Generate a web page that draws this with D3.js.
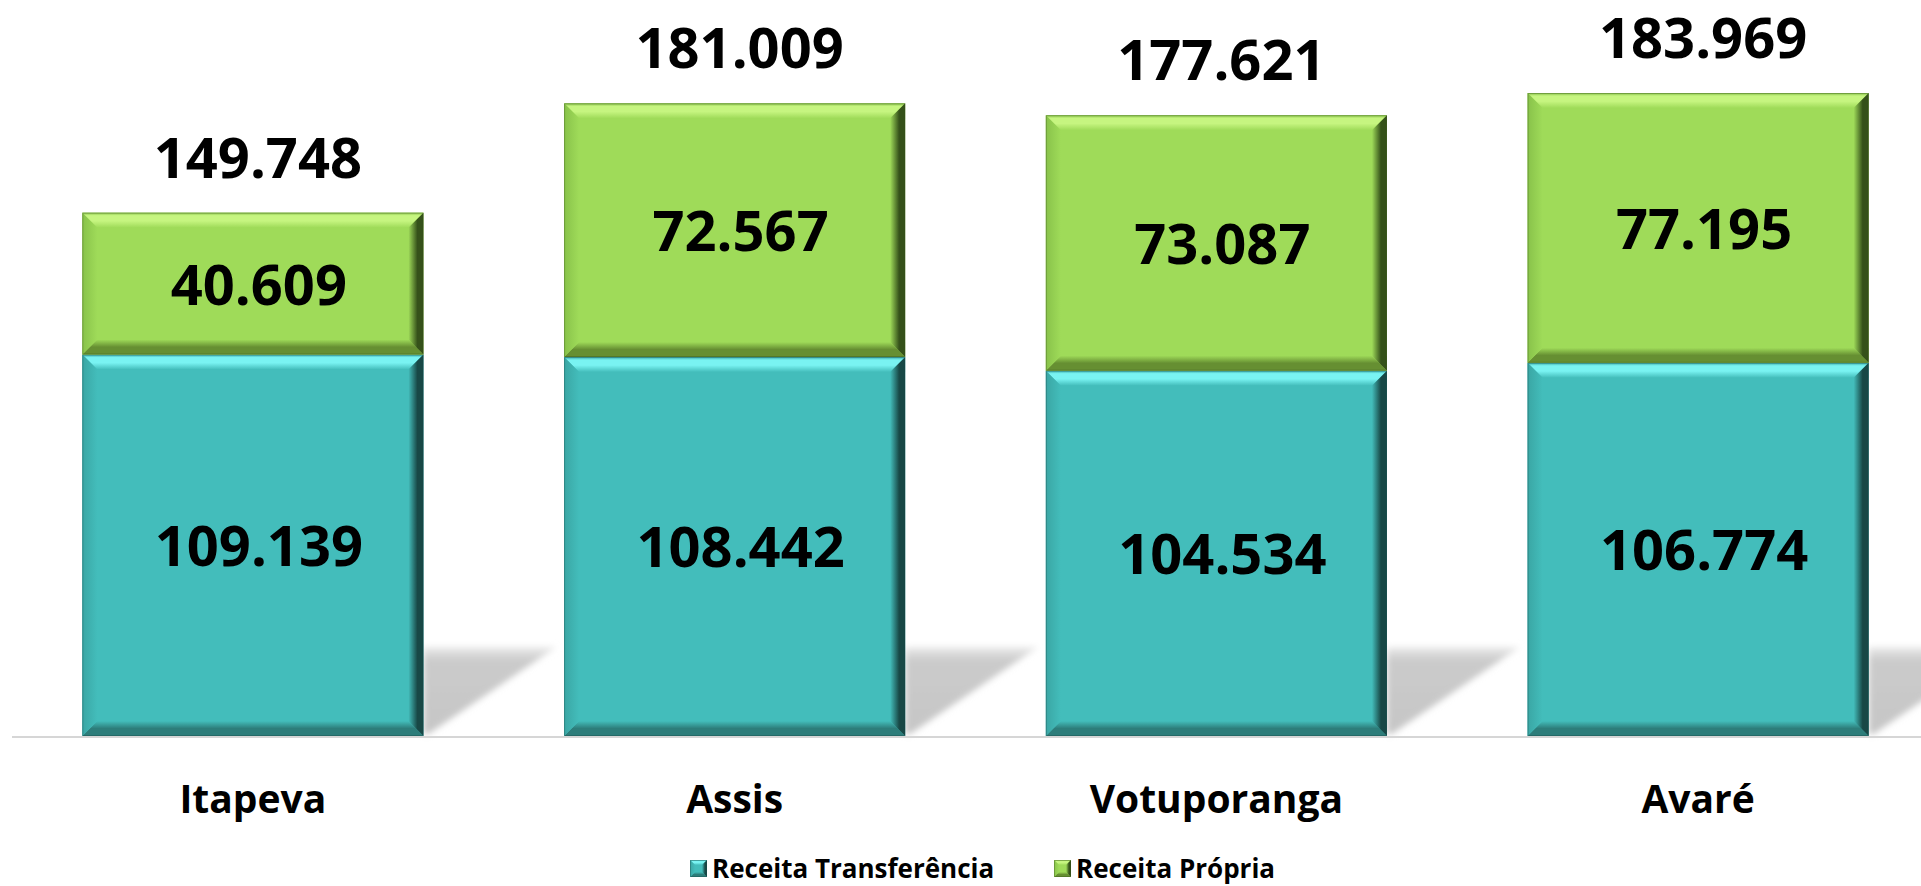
<!DOCTYPE html>
<html>
<head>
<meta charset="utf-8">
<script src="https://cdn.jsdelivr.net/npm/d3@7"></script>
<style>
  body { margin: 0; background: #fff; }
  text { font-family: 'Open Sans', 'Noto Sans', sans-serif; font-weight: bold; fill: #000; }
</style>
</head>
<body>
<svg id="chart" width="1921" height="886"></svg>
<script>
const categories = ['Itapeva', 'Assis', 'Votuporanga', 'Avaré']
const receitaTransferencia = [109139, 108442, 104534, 106774]
const receitaPropria = [40609, 72567, 73087, 77195]
const seriesNames = ['Receita Transferência', 'Receita Própria']
const seriesKeys = ['transf', 'propria']

const width = 1921, height = 886
const baseY = 736
const bevel = 15

const svg = d3.select('#chart')
const defs = svg.append('defs')

const ptBR = d3.formatLocale({ decimal: ',', thousands: '.', grouping: [3], currency: ['R$', ''] })
const fmt = ptBR.format(',d')

const rows = categories.map((c, i) => ({ cat: c, transf: receitaTransferencia[i], propria: receitaPropria[i] }))
const stacked = d3.stack().keys(seriesKeys)(rows)

const x = d3.scaleBand()
  .domain(categories)
  .range([12, 1939])
  .paddingInner(0.292)
  .paddingOuter(0.146)

const y = d3.scaleLinear()
  .domain([0, 200000])
  .range([baseY, 37])

// colours for the bevelled look: main, light (top), dark (right), mid (bottom), left
const palette = {
  transf: { main: '#43bdbb', edge: '#3aa9a7', light: '#79f3f2', dark: '#184846', bottom: '#2d7d7a', left: '#3aa6a4' },
  propria: { main: '#9fdb59', edge: '#88c04a', light: '#c6f580', dark: '#35511a', bottom: '#668f32', left: '#88c24a' }
}

function grad(id, x2, y2, stops) {
  const g = defs.append('linearGradient').attr('id', id)
    .attr('x1', 0).attr('y1', 0).attr('x2', x2).attr('y2', y2)
  stops.forEach(s => g.append('stop').attr('offset', s[0]).attr('stop-color', s[1]))
}

seriesKeys.forEach(k => {
  const p = palette[k]
  grad(k + '-top', 0, 1, [[0, p.edge], [0.2, p.light], [0.55, p.light], [1, p.main]])
  grad(k + '-bottom', 0, 1, [[0, p.main], [0.5, p.bottom], [1, p.bottom]])
  grad(k + '-right', 1, 0, [[0, p.main], [0.6, p.dark], [1, p.dark]])
  grad(k + '-left', 1, 0, [[0, p.left], [1, p.main]])
})

const blur = defs.append('filter').attr('id', 'shadowBlur')
  .attr('x', '-20%').attr('y', '-20%').attr('width', '140%').attr('height', '140%')
blur.append('feGaussianBlur').attr('stdDeviation', 3)
grad('shadowFill', 0, 1, [[0, '#ececec'], [0.15, '#cbcbcb'], [1, '#c6c6c6']])

// cast shadows behind the bars
const shH = 89, shW = x.bandwidth() * 0.39
svg.append('g').selectAll('path')
  .data(categories)
  .enter()
  .append('path')
  .attr('d', c => {
    const xr = x(c) + x.bandwidth()
    return `M${xr},${baseY - shH} L${xr + shW},${baseY - shH} L${xr + 5},${baseY - 2} L${xr},${baseY - 2} Z`
  })
  .attr('fill', 'url(#shadowFill)')
  .attr('filter', 'url(#shadowBlur)')

// axis line
svg.append('line')
  .attr('x1', 12).attr('x2', width)
  .attr('y1', baseY + 1).attr('y2', baseY + 1)
  .attr('stroke', '#d6d6d6').attr('stroke-width', 2)

function bevelBox(g, x0, y0, w, h, key, b) {
  const x1 = x0 + w, y1 = y0 + h
  g.append('rect').attr('x', x0).attr('y', y0).attr('width', w).attr('height', h)
    .attr('fill', palette[key].main)
  g.append('path').attr('d', `M${x0},${y0} L${x1},${y0} L${x1 - b},${y0 + b} L${x0 + b},${y0 + b} Z`)
    .attr('fill', `url(#${key}-top)`)
  g.append('path').attr('d', `M${x0},${y1} L${x0 + b},${y1 - b} L${x1 - b},${y1 - b} L${x1},${y1} Z`)
    .attr('fill', `url(#${key}-bottom)`)
  g.append('path').attr('d', `M${x0},${y0} L${x0 + b},${y0 + b} L${x0 + b},${y1 - b} L${x0},${y1} Z`)
    .attr('fill', `url(#${key}-left)`)
  g.append('path').attr('d', `M${x1},${y0} L${x1 - b},${y0 + b} L${x1 - b},${y1 - b} L${x1},${y1} Z`)
    .attr('fill', `url(#${key}-right)`)
  g.append('rect').attr('x', x0 + 0.5).attr('y', y0 + 0.5).attr('width', w - 1).attr('height', h - 1)
    .attr('fill', 'none').attr('stroke', palette[key].dark).attr('stroke-opacity', 0.35).attr('stroke-width', 1)
}

stacked.forEach(layer => {
  const key = layer.key
  layer.forEach((d, i) => {
    const g = svg.append('g').attr('class', 'seg ' + key)
    const top = y(d[1]), bot = y(d[0])
    bevelBox(g, x(categories[i]), top, x.bandwidth(), bot - top, key, bevel)
    g.append('text')
      .attr('x', x(categories[i]) + x.bandwidth() / 2 + 6)
      .attr('y', (top + bot) / 2 + 21)
      .attr('text-anchor', 'middle')
      .attr('font-size', 56)
      .text(fmt(d[1] - d[0]))
  })
})

// totals above bars
const totals = rows.map(r => r.transf + r.propria)
svg.append('g').selectAll('text')
  .data(categories)
  .enter()
  .append('text')
  .attr('x', c => x(c) + x.bandwidth() / 2 + 5)
  .attr('y', (c, i) => y(totals[i]) - 35)
  .attr('text-anchor', 'middle')
  .attr('font-size', 56)
  .text((c, i) => fmt(totals[i]))

// category labels
svg.append('g').selectAll('text')
  .data(categories)
  .enter()
  .append('text')
  .attr('x', c => x(c) + x.bandwidth() / 2)
  .attr('y', 813)
  .attr('text-anchor', 'middle')
  .attr('font-size', 39)
  .text(c => c)

// legend
const legendPos = [690, 1054]
seriesKeys.forEach((k, i) => {
  const g = svg.append('g').attr('class', 'legend')
  bevelBox(g, legendPos[i], 860, 17, 17, k, 5)
  g.append('text')
    .attr('x', legendPos[i] + 22)
    .attr('y', 878)
    .attr('font-size', 26)
    .text(seriesNames[i])
})
</script>
</body>
</html>
